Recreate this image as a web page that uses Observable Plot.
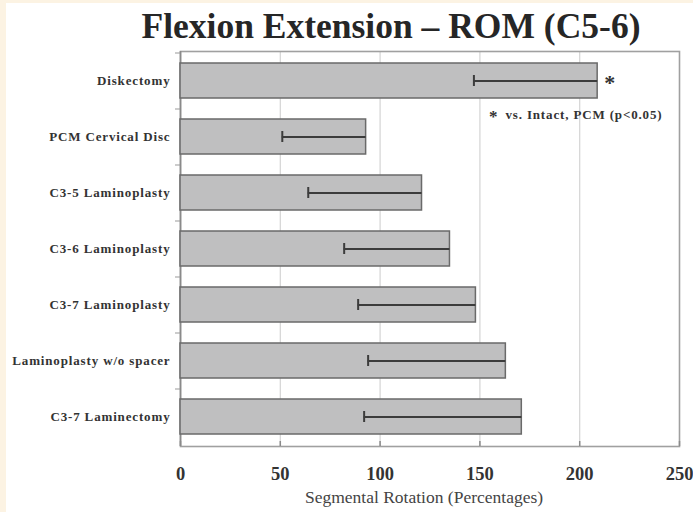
<!DOCTYPE html>
<html>
<head>
<meta charset="utf-8">
<script src="https://cdn.jsdelivr.net/npm/d3@7"></script>
<script src="https://cdn.jsdelivr.net/npm/@observablehq/plot@0.6"></script>
<style>
  html, body { margin: 0; padding: 0; background: #fcf3e3; }
  #wrap { position: absolute; left: 6px; top: 3px; width: 687px; height: 509px; background: #ffffff; overflow: hidden; }
  #title { height: 44px; line-height: 46px; font-family: "Liberation Serif", "Times New Roman", serif; font-weight: bold; font-size: 35.5px; color: #262626; text-align: center; padding-left: 83px; box-sizing: border-box; white-space: nowrap; }
  svg { display: block; }
  g[aria-label="y-axis tick label"] text, .spaced text { letter-spacing: 0.85px; }
</style>
</head>
<body>
<div id="wrap">
  <div id="title">Flexion Extension – ROM (C5-6)</div>
  <div id="chart"></div>
</div>
<script>
const categories = ["Diskectomy", "PCM Cervical Disc", "C3-5 Laminoplasty", "C3-6 Laminoplasty", "C3-7 Laminoplasty", "Laminoplasty w/o spacer", "C3-7 Laminectomy"];
const meanValues = [209, 93, 121, 135, 148, 163, 171];
const lowerValues = [147, 51, 64, 82, 89, 94, 92];
const significant = [true, false, false, false, false, false, false];
const xTicks = [0, 50, 100, 150, 200, 250];
const xLabel = "Segmental Rotation (Percentages)";
const noteStar = "*";
const noteText = "vs. Intact, PCM (p<0.05)";

const data = categories.map((name, i) => ({name, mean: meanValues[i], lo: lowerValues[i], sig: significant[i]}));

const font = "Liberation Serif, Times New Roman, serif";
const chart = Plot.plot({
  width: 687,
  height: 465,
  marginTop: 4,
  marginBottom: 66,
  marginLeft: 174,
  marginRight: 14,
  style: {fontFamily: font, color: "#333", background: "transparent"},
  x: {domain: [0, 250]},
  y: {domain: categories, paddingInner: 0.38, paddingOuter: 0.19},
  marks: [
    Plot.gridX({ticks: xTicks.slice(1, -1), stroke: "#d4d4d4", strokeOpacity: 1, strokeWidth: 1.2}),
    Plot.frame({stroke: "#a0a0a0", strokeWidth: 1.6}),
    Plot.ruleX(xTicks.slice(0, 1), {stroke: "#8a8a8a", strokeWidth: 1.6}),
    Plot.barX(data, {x: "mean", y: "name", fill: "#bfbfc0", stroke: "#6a6a6a", strokeWidth: 1.5}),
    Plot.ruleY(data, {y: "name", x1: "lo", x2: "mean", stroke: "#3c3c3c", strokeWidth: 2}),
    Plot.tickX(data, {x: "lo", y: "name", insetTop: 12, insetBottom: 12, stroke: "#3c3c3c", strokeWidth: 2}),
    Plot.text(data.filter(d => d.sig), {x: "mean", y: "name", text: () => "*", dx: 12, dy: 2, fontSize: 22, fontWeight: "bold", fill: "#333"}),
    Plot.text([noteStar], {frameAnchor: "top-right", text: d => d, dx: -182, dy: 58, fontSize: 17, fontWeight: "bold", fill: "#333"}),
    Plot.text([noteText], {frameAnchor: "top-right", text: d => d, textAnchor: "end", dx: -17, dy: 58, fontSize: 13, fontWeight: "bold", fill: "#333", className: "spaced"}),
    Plot.tickX(xTicks, {x: d => d, insetTop: 390, stroke: "#8a8a8a", strokeWidth: 1.5}),
    Plot.axisX({ticks: xTicks, tickSize: 0, tickPadding: 20, fontSize: 18.5, fontWeight: "bold", label: null, fill: "#333"}),
    Plot.text([xLabel], {frameAnchor: "bottom", text: d => d, dx: -6, dy: 56, fontSize: 17.5, fill: "#444"}),
    Plot.axisY({tickSize: 0, tickPadding: 10, fontSize: 13, fontWeight: "bold", label: null, fill: "#333"}),
    Plot.axisY({tickSize: 5, tickFormat: () => "", dy: -28, label: null, stroke: "#999"})
  ]
});
document.getElementById("chart").appendChild(chart);
</script>
</body>
</html>
